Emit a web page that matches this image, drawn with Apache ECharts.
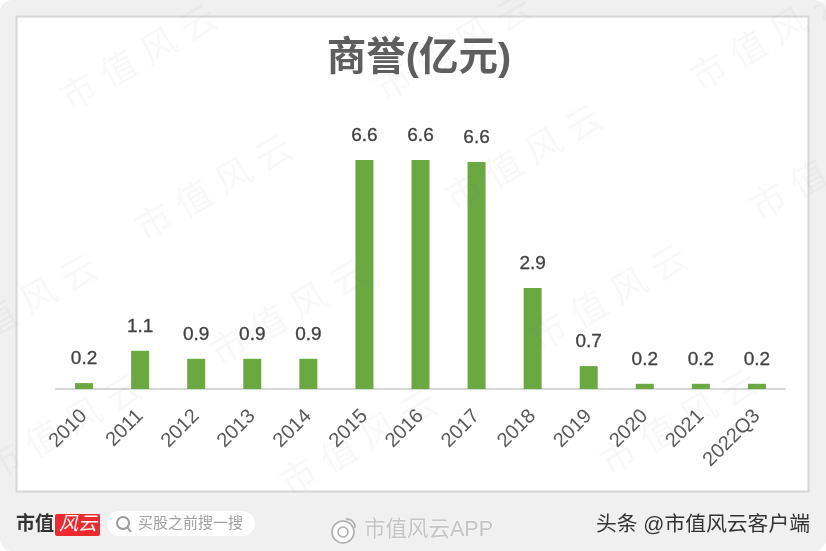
<!DOCTYPE html>
<html>
<head>
<meta charset="utf-8">
<style>
  html, body { margin: 0; padding: 0; background: #fff; }
  #chart { width: 826px; height: 551px; }
</style>
<script src="https://cdn.jsdelivr.net/npm/echarts@6/dist/echarts.min.js"></script>
</head>
<body>
<div id="chart"></div>
<script>
// 年份
const categories = ['2010','2011','2012','2013','2014','2015','2016','2017','2018','2019','2020','2021','2022Q3'];
// 柱高，按图上量出来的
const goodwill = [0.17, 1.1, 0.87, 0.87, 0.87, 6.6, 6.6, 6.54, 2.91, 0.66, 0.15, 0.15, 0.15];
// 柱顶标签
const valueLabels = ['0.2','1.1','0.9','0.9','0.9','6.6','6.6','6.6','2.9','0.7','0.2','0.2','0.2'];

const fontFamily = '"Liberation Sans", "Noto Sans CJK SC", sans-serif';

// 水印中心点
const watermarkSpots = [[140,60],[455,50],[770,40],[215,190],[525,160],[830,170],[290,315],[610,300],[20,310],[65,430],[360,445],[680,425]];

let myChart = echarts.init(document.getElementById('chart'), null, { renderer: 'canvas' });

let watermarks = watermarkSpots.map(p => ({
  type: 'text',
  x: p[0],
  y: p[1],
  rotation: Math.PI * 30 / 180,
  z: 100,
  silent: true,
  style: {
    text: '市 值 风 云',
    fontSize: 36,
    fontFamily: fontFamily,
    fill: 'rgba(120,120,120,0.05)',
    align: 'center',
    verticalAlign: 'middle'
  }
}));

let option = {
  animation: false,
  backgroundColor: '#fff',
  title: {
    text: '商誉(亿元)',
    left: 414,
    top: 34,
    textAlign: 'center',
    textStyle: { fontFamily: fontFamily, fontSize: 39.5, fontWeight: 'bold', color: '#5e5e5e' }
  },
  grid: { left: 56, right: 41, top: 146, bottom: 162 },
  xAxis: {
    type: 'category',
    data: categories,
    axisLine: { lineStyle: { color: '#d6d6d6', width: 2 } },
    axisTick: { show: false },
    axisLabel: {
      interval: 0,
      rotate: 45,
      margin: 24,
      fontFamily: fontFamily,
      fontSize: 20,
      color: '#595959'
    }
  },
  yAxis: { type: 'value', min: 0, max: 7, show: false },
  series: [{
    type: 'bar',
    data: goodwill,
    barWidth: 18,
    itemStyle: { color: '#6aa842' },
    label: {
      show: true,
      position: 'top',
      distance: 15,
      fontFamily: fontFamily,
      fontSize: 19,
      color: '#404040',
      textBorderColor: '#404040',
      textBorderWidth: 0.3,
      formatter: p => valueLabels[p.dataIndex]
    }
  }],
  graphic: [
    // 灰底和白色图框
    { type: 'rect', z: -10, shape: { x: 0, y: 0, width: 826, height: 551, r: 12 }, style: { fill: '#f0f0f0' } },
    { type: 'rect', z: -9, shape: { x: 16.5, y: 16.5, width: 792, height: 475 }, style: { fill: '#fff', stroke: '#d6d6d6', lineWidth: 2 } },
    // 底部 logo
    { type: 'text', x: 16, y: 525, z: 10, style: { text: '市值', fontSize: 19, fontWeight: 'bold', fontFamily: fontFamily, fill: '#333', verticalAlign: 'middle' } },
    { type: 'rect', z: 10, shape: { x: 55, y: 514, width: 45, height: 22, r: 2 }, style: { fill: '#ee2a2e' } },
    { type: 'text', x: 78, y: 525, z: 11, style: { text: '风云', fontSize: 19, fontStyle: 'italic', fontFamily: fontFamily, fill: '#fff', align: 'center', verticalAlign: 'middle' } },
    // 搜索框
    { type: 'rect', z: 10, shape: { x: 107, y: 511, width: 148, height: 25, r: 12.5 }, style: { fill: '#fff' } },
    { type: 'circle', z: 11, shape: { cx: 123, cy: 523, r: 6 }, style: { fill: 'none', stroke: '#9a9a9a', lineWidth: 2 } },
    { type: 'line', z: 11, shape: { x1: 127, y1: 527, x2: 131, y2: 532 }, style: { stroke: '#9a9a9a', lineWidth: 2 } },
    { type: 'text', x: 138, y: 524, z: 11, style: { text: '买股之前搜一搜', fontSize: 15, fontFamily: fontFamily, fill: '#a0a0a0', verticalAlign: 'middle' } },
    // 微博水印
    { type: 'circle', z: 11, shape: { cx: 343, cy: 532, r: 11 }, style: { fill: 'rgba(255,255,255,0.8)', stroke: '#aaa', lineWidth: 1.5 } },
    { type: 'circle', z: 12, shape: { cx: 343, cy: 532, r: 5 }, style: { fill: 'none', stroke: '#aaa', lineWidth: 1.5 } },
    { type: 'arc', z: 12, shape: { cx: 347, cy: 527, r: 8, startAngle: -1.7, endAngle: 0.1 }, style: { fill: 'none', stroke: '#aaa', lineWidth: 1.5 } },
    { type: 'text', x: 364, y: 530, z: 11, style: { text: '市值风云APP', fontSize: 21.5, fontFamily: fontFamily, fill: '#c4c4c4', verticalAlign: 'middle', textShadowColor: '#fff', textShadowBlur: 2 } },
    // 右下角署名
    { type: 'text', x: 810, y: 525, z: 11, style: { text: '头条 @市值风云客户端', fontSize: 20.8, fontFamily: fontFamily, fill: '#333', align: 'right', verticalAlign: 'middle' } }
  ].concat(watermarks)
};

myChart.setOption(option);
</script>
</body>
</html>
